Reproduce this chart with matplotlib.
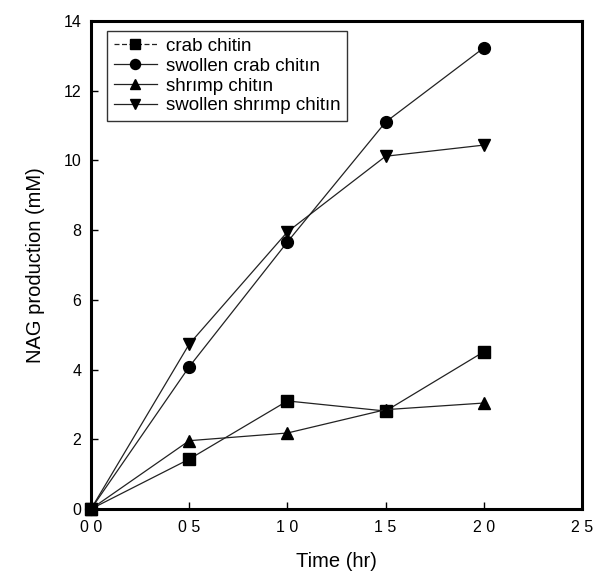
import matplotlib
matplotlib.use("Agg")
import matplotlib.pyplot as plt

time_hr = [0.0, 0.5, 1.0, 1.5, 2.0]
crab = [0.0, 1.43, 3.10, 2.81, 4.51]
swollen_crab = [0.0, 4.08, 7.66, 11.1, 13.23]
shrimp = [0.0, 1.96, 2.18, 2.85, 3.04]
swollen_shrimp = [0.0, 4.73, 7.95, 10.12, 10.44]

series_labels = ["crab chitin", "swollen crab chitın", "shrımp chitın", "swollen shrımp chitın"]
x_ticks = [0.0, 0.5, 1.0, 1.5, 2.0, 2.5]
x_tick_labels = ["0 0", "0 5", "1 0", "1 5", "2 0", "2 5"]
y_ticks = [0, 2, 4, 6, 8, 10, 12, 14]

plt.rcParams['font.family'] = ['Liberation Sans', 'DejaVu Sans']

fig = plt.figure(figsize=(5.96, 5.75), dpi=100)
ax = fig.add_axes([91/596, 66/575, (582-91)/596, (509-21)/575])

series = [crab, swollen_crab, shrimp, swollen_shrimp]
markers = ['s', 'o', '^', 'v']
for ys, m, lab in zip(series, markers, series_labels):
    ax.plot(time_hr, ys, color='#222222', lw=0.9, marker=m, markersize=8.5,
            markerfacecolor='black', markeredgecolor='black', label=lab, clip_on=False)

ax.set_xlim(0, 2.5)
ax.set_ylim(0, 14)
ax.set_xticks(x_ticks)
ax.set_xticklabels(x_tick_labels, fontsize=11.5)
ax.set_yticks(y_ticks)
ax.set_yticklabels([str(v) for v in y_ticks], fontsize=11.5)
ax.tick_params(direction='in', length=5, width=1)
ax.tick_params(axis='x', pad=8)
ax.tick_params(axis='y', pad=7)
for s in ax.spines.values():
    s.set_linewidth(2.2)

ax.set_xlabel("Time (hr)", fontsize=14.5, labelpad=12)
ax.set_ylabel("NAG production (mM)", fontsize=14.5, labelpad=13)

leg = ax.legend(loc='upper left', bbox_to_anchor=(107/596, 1 - 31/575),
                bbox_transform=fig.transFigure, fontsize=13.5, frameon=True,
                fancybox=False, edgecolor='black', borderaxespad=0,
                handlelength=2.3, handletextpad=0.5, labelspacing=0.15,
                borderpad=0.35, markerscale=0.85)
leg.get_frame().set_linewidth(1.0)
leg.legend_handles[0].set_linestyle((0, (4, 2)))

fig.savefig("out.png", dpi=100)
